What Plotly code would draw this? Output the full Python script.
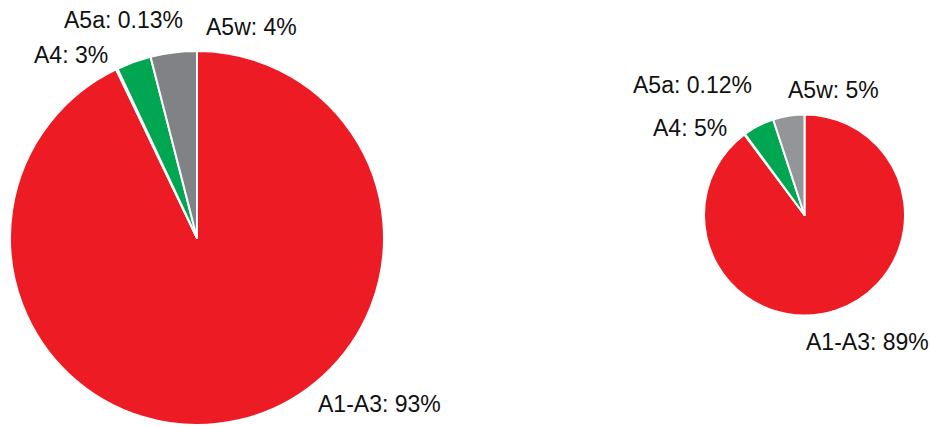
import plotly.graph_objects as go

categories = ["A1-A3", "A5a", "A4", "A5w"]
left_values = [93, 0.13, 3, 4]
right_values = [89, 0.12, 5, 5]
left_pct_text = ["93%", "0.13%", "3%", "4%"]
right_pct_text = ["89%", "0.12%", "5%", "5%"]

left_colors = ["#ED1C24", "#FFFFFF", "#00A651", "#808285"]
right_colors = ["#ED1C24", "#FFFFFF", "#00A651", "#939598"]

W, H = 931, 426

fig = go.Figure()
fig.add_trace(go.Pie(
    labels=categories, values=left_values, sort=False, direction="clockwise",
    rotation=0, textinfo="none", hoverinfo="label+percent",
    marker=dict(colors=left_colors, line=dict(color="white", width=2)),
    domain=dict(x=[10 / W, 384 / W], y=[1 / H, 375 / H]), showlegend=False,
))
fig.add_trace(go.Pie(
    labels=categories, values=right_values, sort=False, direction="clockwise",
    rotation=0, textinfo="none", hoverinfo="label+percent",
    marker=dict(colors=right_colors, line=dict(color="white", width=2)),
    domain=dict(x=[704 / W, 905 / W], y=[(H - 315.5) / H, (H - 114.5) / H]), showlegend=False,
))

# label anchor positions in pixels (left edge, vertical centre)
left_pos = {"A1-A3": (316, 404), "A5a": (62, 20), "A4": (32, 55), "A5w": (204, 27)}
right_pos = {"A1-A3": (804, 342), "A5a": (631, 85), "A4": (651, 128), "A5w": (786, 90)}

annotations = []
for cats, pcts, pos in [(categories, left_pct_text, left_pos), (categories, right_pct_text, right_pos)]:
    for c, p in zip(cats, pcts):
        px, py = pos[c]
        annotations.append(dict(
            text=f"{c}: {p}", x=px / W, y=1 - py / H, xref="paper", yref="paper",
            xanchor="left", yanchor="middle", showarrow=False,
            font=dict(family="Liberation Sans, Arial, sans-serif", size=23, color="#111111"),
        ))

fig.update_layout(
    width=W, height=H, margin=dict(l=0, r=0, t=0, b=0),
    paper_bgcolor="white", plot_bgcolor="white",
    annotations=annotations,
)
fig.write_html(
    "out.html",
    config={"displayModeBar": False},
    post_script="document.body.style.margin='0';document.body.style.overflow='hidden';",
)
